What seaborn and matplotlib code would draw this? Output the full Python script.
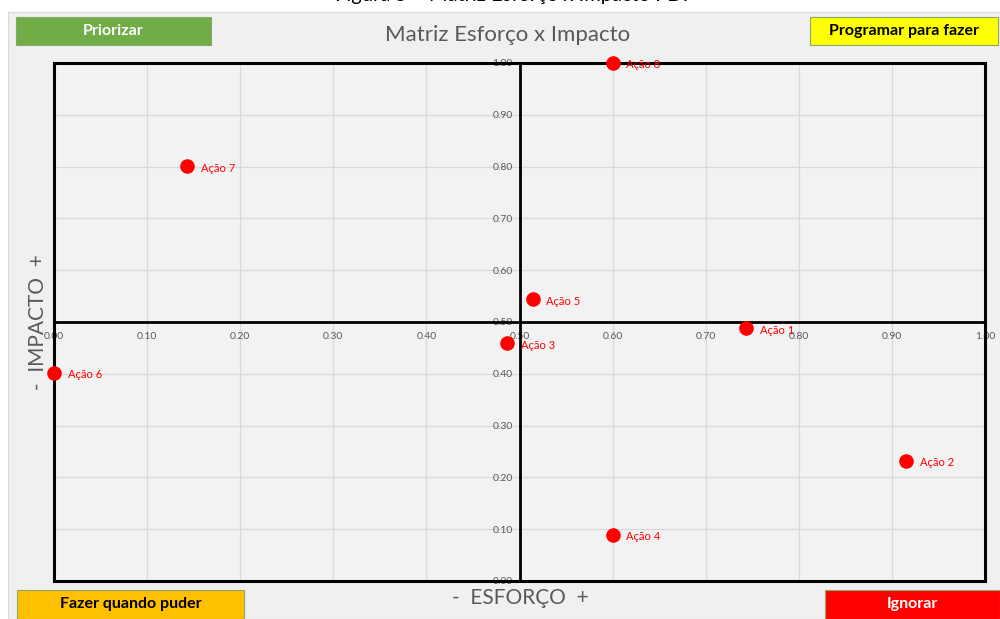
import seaborn as sns
import matplotlib.pyplot as plt
import matplotlib.patches as mpatches
import numpy as np
import pandas as pd

# dados
acoes = ["Ação 1", "Ação 2", "Ação 3", "Ação 4", "Ação 5", "Ação 6", "Ação 7", "Ação 8"]
esforco = [0.743, 0.915, 0.487, 0.600, 0.514, 0.000, 0.143, 0.600]
impacto = [0.488, 0.232, 0.459, 0.089, 0.544, 0.402, 0.801, 1.000]
ticks = [0.0, 0.1, 0.2, 0.3, 0.4, 0.5, 0.6, 0.7, 0.8, 0.9, 1.0]

sns.set_theme(style="white")
plt.rcParams['font.family'] = ['Lato', 'DejaVu Sans']

df = pd.DataFrame({"acao": acoes, "esforco": esforco, "impacto": impacto})

fig = plt.figure(figsize=(10, 6.19), dpi=100, facecolor="white")
# fundo cinza do painel
fig.patches.append(mpatches.Rectangle((0.008, 0), 0.992, 0.981, transform=fig.transFigure,
                                      facecolor="#f0f0f0", edgecolor="#d9d9d9", lw=0.8, zorder=-10))
ax = fig.add_axes([0.054, 0.0614, 0.931, 0.837])
ax.set_facecolor("#f2f2f2")

sns.scatterplot(data=df, x="esforco", y="impacto", color="#ff0000", s=110,
                edgecolor="#ff0000", linewidth=0, ax=ax, zorder=5, clip_on=False)
for _, r in df.iterrows():
    ax.annotate(r["acao"], (r["esforco"], r["impacto"]), xytext=(10, -1.5),
                textcoords="offset points", fontsize=8, color="#ff0000",
                va="center", ha="left", zorder=6)

ax.set_xlim(0, 1)
ax.set_ylim(0, 1)
ax.set_xticks(ticks)
ax.set_yticks(ticks)
ax.set_xticklabels([f"{t:.2f}" for t in ticks])
ax.set_yticklabels([f"{t:.2f}" for t in ticks])
ax.grid(True, color="#d9d9d9", lw=0.9)
ax.set_axisbelow(True)
ax.set_xlabel("")
ax.set_ylabel("")

for s in ["top", "right"]:
    ax.spines[s].set_visible(False)
ax.spines["left"].set_position(("data", 0.5))
ax.spines["bottom"].set_position(("data", 0.5))
for s in ["left", "bottom"]:
    ax.spines[s].set_color("black")
    ax.spines[s].set_linewidth(2)
    ax.spines[s].set_zorder(3)
ax.tick_params(length=0, labelsize=7.5, labelcolor="#595959")
ax.tick_params(axis="x", pad=7)
ax.tick_params(axis="y", pad=5)
ax.add_patch(mpatches.Rectangle((0, 0), 1, 1, transform=ax.transAxes, fill=False,
                                edgecolor="black", lw=2.2, zorder=4, clip_on=False))

# títulos
fig.text(0.508, 0.944, "Matriz Esforço x Impacto", ha="center", va="center",
         fontsize=16, color="#595959")
fig.text(0.52, 0.034, "-  ESFORÇO  +", ha="center", va="center", fontsize=15, color="#595959")
fig.text(0.038, 0.48, "-  IMPACTO  +", ha="center", va="center", rotation=90,
         fontsize=15, color="#595959")
fig.text(0.512, 1.008, "Figura 5 – Matriz Esforço x Impacto PDI", ha="center", va="center",
         fontsize=14.5, color="black")

# caixas dos quadrantes
caixas = [
    ("Priorizar", 0.016, 0.927, 0.195, 0.046, "#70ad47", "white"),
    ("Programar para fazer", 0.810, 0.927, 0.188, 0.046, "#ffff00", "black"),
    ("Fazer quando puder", 0.017, 0.0, 0.227, 0.047, "#ffc000", "black"),
    ("Ignorar", 0.825, 0.0, 0.175, 0.047, "#ff0000", "white"),
]
for txt, x0, y0, w, h, fc, tc in caixas:
    fig.patches.append(mpatches.Rectangle((x0, y0), w, h, transform=fig.transFigure,
                                          facecolor=fc, edgecolor="#8aa86a", lw=0.8, zorder=2))
    fig.text(x0 + w / 2, y0 + h / 2, txt, ha="center", va="center", fontsize=11.5,
             fontweight="bold", color=tc, zorder=3)

fig.savefig("out.png", dpi=100, facecolor=fig.get_facecolor())
